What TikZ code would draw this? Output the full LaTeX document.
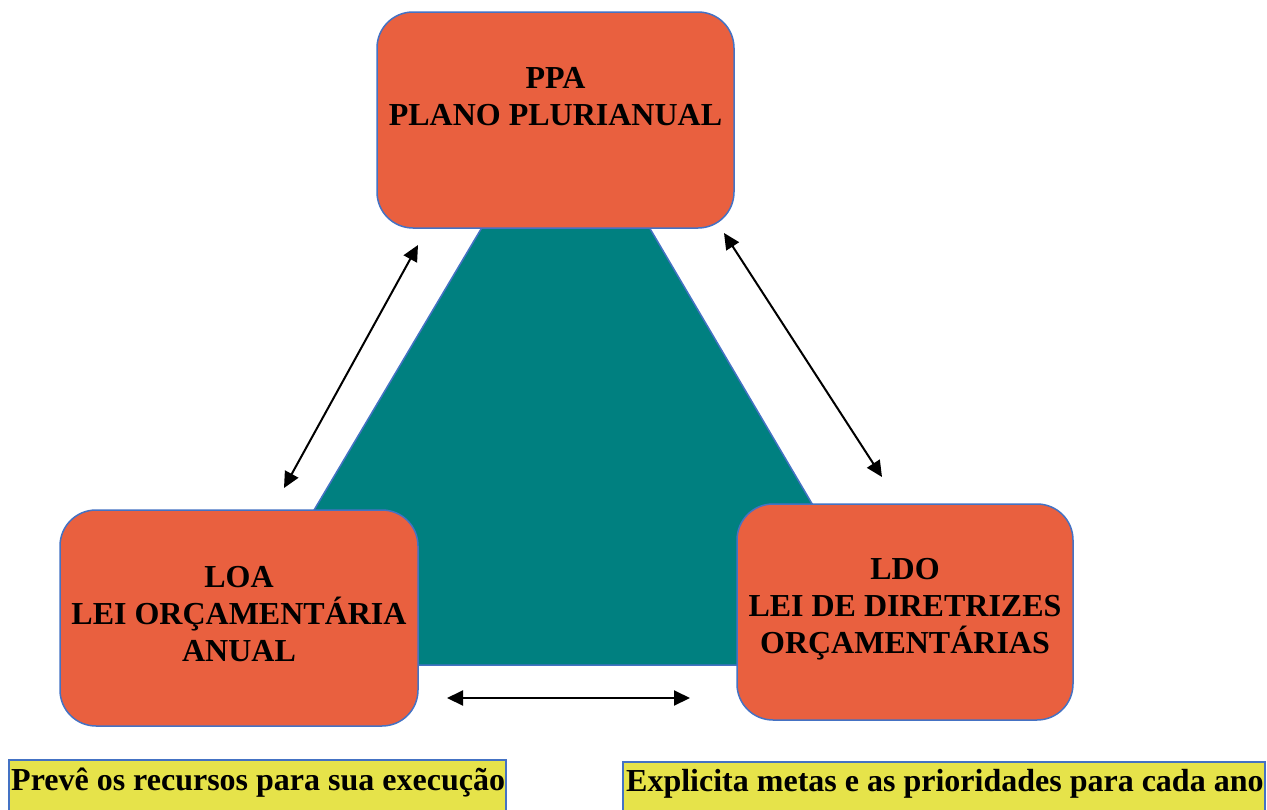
\documentclass[tikz,border=0pt]{standalone}
\usepackage{fontspec}
\setmainfont{Liberation Serif}
\usetikzlibrary{arrows.meta,calc}
\definecolor{boxorange}{HTML}{E9603F}
\definecolor{borderblue}{HTML}{4472C4}
\definecolor{tealfill}{HTML}{008080}
\definecolor{ylw}{HTML}{E6E34A}
\begin{document}
\begin{tikzpicture}[x=1pt,y=-1pt,
 rbox/.style={draw=borderblue, line width=1.5pt, fill=boxorange, rounded corners=36pt, inner sep=0pt},
 btxt/.style={font=\fontsize{32}{37}\selectfont\bfseries, align=center, text=black},
 ybox/.style={draw=borderblue, line width=1.5pt, fill=ylw, inner sep=0pt},
 dbl/.style={{Triangle[length=16pt,width=15pt]}-{Triangle[length=16pt,width=15pt]}, line width=2pt}]
\useasboundingbox (0,0) rectangle (1267,809);
\clip (0,0) rectangle (1267,809);
\fill[white] (0,0) rectangle (1267,809);
\draw[draw=borderblue, fill=tealfill, line width=1.5pt] (566,86) -- (907,665) -- (222,665) -- cycle;
\node[rbox, minimum width=357pt, minimum height=216pt] (ppa) at (555.5,120) {};
\node[rbox, minimum width=358pt, minimum height=216pt] (loa) at (239,618) {};
\node[rbox, minimum width=336pt, minimum height=216pt] (ldo) at (905,612) {};
\node[btxt] (ppatxt) at (555.5,97) {PPA\\PLANO PLURIANUAL};
\node[btxt] (loatxt) at (239,614) {LOA\\LEI ORÇAMENTÁRIA\\ANUAL};
\node[btxt] (ldotxt) at (905,609) {LDO\\LEI DE DIRETRIZES\\ORÇAMENTÁRIAS};
\coordinate (a1) at (284,488);
\coordinate (a2) at (418,245);
\coordinate (b1) at (724,233);
\coordinate (b2) at (882,477);
\coordinate (c1) at (447,698);
\coordinate (c2) at (690,698);
\draw[dbl] (a1) -- (a2);
\draw[dbl] (b1) -- (b2);
\draw[dbl] (c1) -- (c2);
\node[ybox, anchor=north west, minimum width=497pt, minimum height=70pt] (prev) at (8,759) {};
\node[ybox, anchor=north west, minimum width=642pt, minimum height=70pt] (expl) at (622,761) {};
\node[btxt, anchor=base west, inner sep=0pt] (prevtxt) at (11,790) {Prevê os recursos para sua execução};
\node[btxt, anchor=base west, inner sep=0pt] (expltxt) at (626,791) {Explicita metas e as prioridades para cada ano};
\end{tikzpicture}
\end{document}
